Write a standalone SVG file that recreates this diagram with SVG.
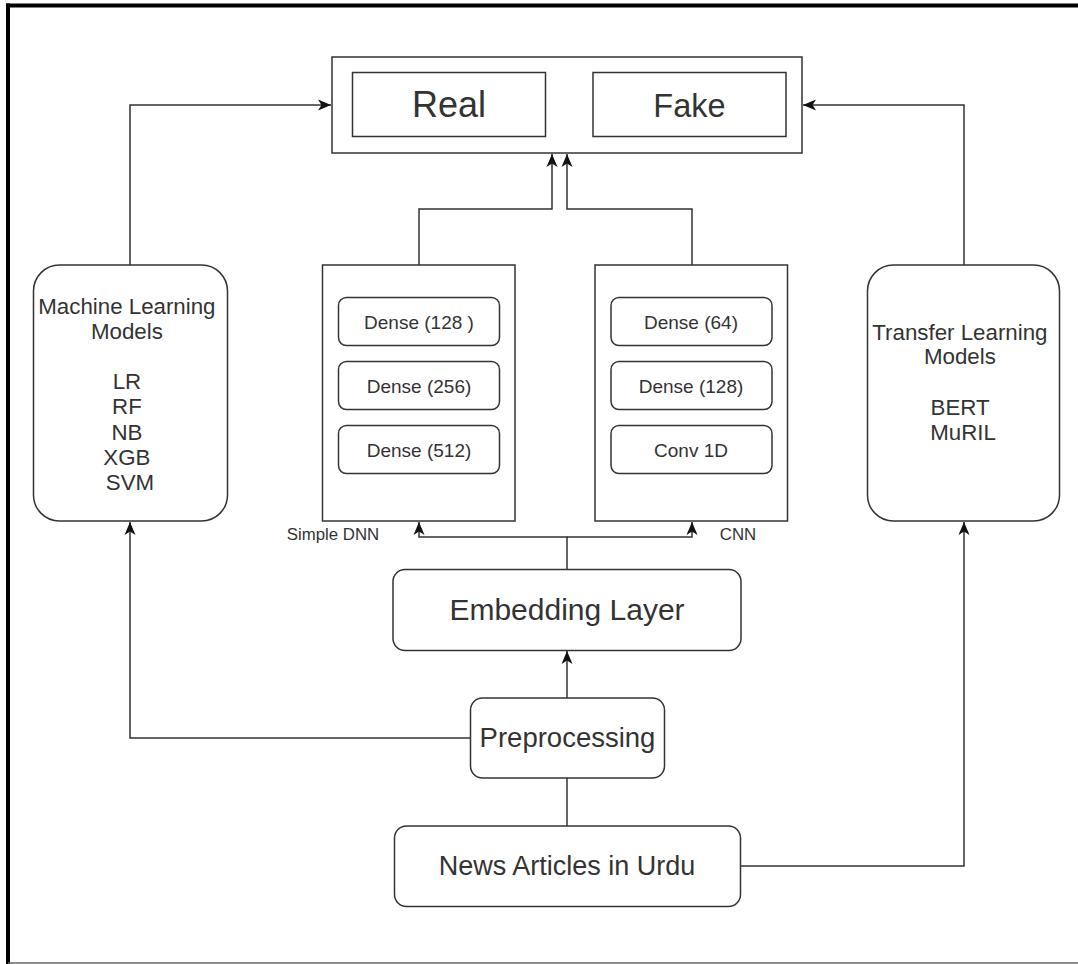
<svg xmlns="http://www.w3.org/2000/svg" width="1078" height="964" viewBox="0 0 1078 964">
<style>
text{font-family:"Liberation Sans",Arial,sans-serif;fill:#333;text-anchor:middle}
.box{fill:#fff;stroke:#333;stroke-width:1.5}
.con{fill:none;stroke:#333;stroke-width:1.5}
</style>
<defs>
<marker id="arr" markerUnits="userSpaceOnUse" markerWidth="15" markerHeight="13" viewBox="0 0 15 13" refX="14" refY="6.5" orient="auto">
<path d="M1,1 L14,6.5 L1,12 L4.5,6.5 Z" fill="#111"/>
</marker>
</defs>
<rect width="1078" height="964" fill="#fff"/>
<g id="frame">
<line x1="8" y1="3.5" x2="8" y2="964" stroke="#000" stroke-width="4"/>
<line x1="6" y1="5.5" x2="1078" y2="5.5" stroke="#000" stroke-width="4"/>
<line x1="8" y1="963" x2="1078" y2="963" stroke="#666" stroke-width="1.5"/>
</g>
<g id="connectors">
<path class="con" d="M130,265 V105 H331" marker-end="url(#arr)"/>
<path class="con" d="M964,265 V105 H803" marker-end="url(#arr)"/>
<path class="con" d="M419,265 V209 H552 V154" marker-end="url(#arr)"/>
<path class="con" d="M692,265 V209 H567 V154" marker-end="url(#arr)"/>
<path class="con" d="M567,569 V537 H419 V522" marker-end="url(#arr)"/>
<path class="con" d="M567,537 H692 V522" marker-end="url(#arr)"/>
<path class="con" d="M567,698 V651" stroke-width="2" marker-end="url(#arr)"/>
<path class="con" d="M567,778 V826"/>
<path class="con" d="M470,738 H130 V522" marker-end="url(#arr)"/>
<path class="con" d="M740,866 H964 V522" marker-end="url(#arr)"/>
</g>
<g id="output">
<rect class="box" x="332" y="57" width="470" height="96" stroke="#444"/>
</g>
<g id="real">
<rect class="box" x="352.5" y="72.5" width="193" height="64"/>
<text x="449" y="117" font-size="36" fill="#222">Real</text>
</g>
<g id="fake">
<rect class="box" x="593" y="72.5" width="193" height="64"/>
<text x="689.5" y="117" font-size="32.5" fill="#222">Fake</text>
</g>
<g id="ml-models">
<rect class="box" x="33.5" y="265" width="194" height="256" rx="26"/>
<text font-size="22.3">
<tspan x="130" y="313.5">Machine Learning</tspan>
<tspan x="130" y="338.7">Models</tspan>
<tspan x="130" y="389.1">LR</tspan>
<tspan x="130" y="414.3">RF</tspan>
<tspan x="130" y="439.5">NB</tspan>
<tspan x="130" y="464.7">XGB</tspan>
<tspan x="130" y="489.9">SVM</tspan>
</text>
</g>
<g id="tl-models">
<rect class="box" x="867.5" y="265" width="192" height="256" rx="26"/>
<text font-size="22.3">
<tspan x="963" y="339.5">Transfer Learning</tspan>
<tspan x="963" y="364.2">Models</tspan>
<tspan x="963" y="415">BERT</tspan>
<tspan x="963" y="440.2">MuRIL</tspan>
</text>
</g>
<g id="simple-dnn">
<rect class="box" x="322.5" y="265" width="192.5" height="256"/>
<rect class="box" x="338.5" y="297.5" width="161" height="48" rx="8"/>
<text x="419" y="328.5" font-size="19">Dense (128 )</text>
<rect class="box" x="338.5" y="361.5" width="161" height="48" rx="8"/>
<text x="419" y="392.5" font-size="19">Dense (256)</text>
<rect class="box" x="338.5" y="425.5" width="161" height="48" rx="8"/>
<text x="419" y="456.5" font-size="19">Dense (512)</text>
<text x="333" y="540" font-size="16.8" fill="#222">Simple DNN</text>
</g>
<g id="cnn">
<rect class="box" x="595" y="265" width="192.5" height="256"/>
<rect class="box" x="611" y="297.5" width="161" height="48" rx="8"/>
<text x="691" y="328.5" font-size="19">Dense (64)</text>
<rect class="box" x="611" y="361.5" width="161" height="48" rx="8"/>
<text x="691" y="392.5" font-size="19">Dense (128)</text>
<rect class="box" x="611" y="425.5" width="161" height="48" rx="8"/>
<text x="691" y="456.5" font-size="19">Conv 1D</text>
<text x="738" y="540" font-size="16.8" fill="#222">CNN</text>
</g>
<g id="embedding">
<rect class="box" x="393" y="569.5" width="348" height="81" rx="12"/>
<text x="567" y="620" font-size="30">Embedding Layer</text>
</g>
<g id="preprocessing">
<rect class="box" x="470.5" y="698" width="194" height="80" rx="12"/>
<text x="567.5" y="747" font-size="27.5">Preprocessing</text>
</g>
<g id="news">
<rect class="box" x="394.5" y="826" width="346" height="80.5" rx="12"/>
<text x="567" y="875" font-size="27">News Articles in Urdu</text>
</g>
</svg>
